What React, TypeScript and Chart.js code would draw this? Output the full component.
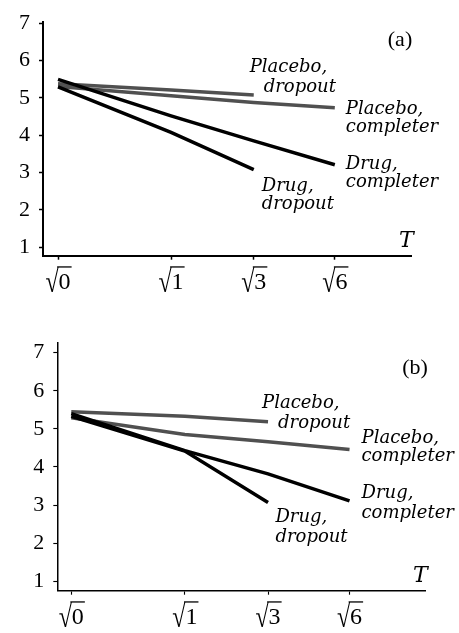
import React, { useEffect, useRef } from "react";
import { Chart, registerables } from "chart.js";

Chart.register(...registerables);

// ---- data ----
const T_COMPLETER = [0, 1, 3, 6];
const T_DROPOUT = [0, 1, 3];
const X_TICK_T = [0, 1, 3, 6];
const Y_TICKS = [1, 2, 3, 4, 5, 6, 7];

const A_DRUG_COMPLETER = [5.5, 4.52, 3.85, 3.21];
const A_DRUG_DROPOUT = [5.3, 4.08, 3.08];
const A_PLACEBO_COMPLETER = [5.31, 5.06, 4.88, 4.74];
const A_PLACEBO_DROPOUT = [5.38, 5.21, 5.08];

const B_DRUG_COMPLETER = [5.4, 4.43, 3.82, 3.11];
const B_DRUG_DROPOUT = [5.33, 4.42, 3.07];
const B_PLACEBO_COMPLETER = [5.29, 4.85, 4.66, 4.46];
const B_PLACEBO_DROPOUT = [5.45, 5.33, 5.19];

const LABEL_PLACEBO_DROPOUT = ["Placebo,", "dropout"];
const LABEL_PLACEBO_COMPLETER = ["Placebo,", "completer"];
const LABEL_DRUG_COMPLETER = ["Drug,", "completer"];
const LABEL_DRUG_DROPOUT = ["Drug,", "dropout"];

const BLACK = "#000000";
const GRAY = "#505050";
const SERIF = "'DejaVu Serif', 'Liberation Serif', serif";
const ROMAN = "'Liberation Serif', 'DejaVu Serif', serif";

type SeriesSpec = {
  t: number[];
  v: number[];
  color: string;
  lines: string[];
  dx: number[];
  dy: number[];
};

type PanelSpec = {
  tag: string;
  width: number;
  height: number;
  top: number;
  padTop: number;
  padRight: number;
  yWidth: number;
  xHeight: number;
  xMin: number;
  xMax: number;
  yMin: number;
  yMax: number;
  axisWidth: number;
  tagDx: number;
  tagDy: number;
  series: SeriesSpec[];
};

const PANEL_A: PanelSpec = {
  tag: "(a)",
  width: 459,
  height: 300,
  top: 0,
  padTop: 16,
  padRight: 47.3,
  yWidth: 43,
  xHeight: 44.3,
  xMin: -0.133,
  xMax: 3.13,
  yMin: 0.773,
  yMax: 7.03,
  axisWidth: 2,
  tagDx: -11.7,
  tagDy: 18,
  series: [
    { t: T_COMPLETER, v: A_DRUG_COMPLETER, color: BLACK, lines: LABEL_DRUG_COMPLETER, dx: [11, 11], dy: [4, 22.5] },
    { t: T_DROPOUT, v: A_DRUG_DROPOUT, color: BLACK, lines: LABEL_DRUG_DROPOUT, dx: [8, 8], dy: [21, 39] },
    { t: T_COMPLETER, v: A_PLACEBO_COMPLETER, color: GRAY, lines: LABEL_PLACEBO_COMPLETER, dx: [11, 11], dy: [6, 24] },
    { t: T_DROPOUT, v: A_PLACEBO_DROPOUT, color: GRAY, lines: LABEL_PLACEBO_DROPOUT, dx: [-4, 10], dy: [-22.6, -2.6] },
  ],
};

const PANEL_B: PanelSpec = {
  tag: "(b)",
  width: 459,
  height: 333,
  top: 300,
  padTop: 42.7,
  padRight: 33.3,
  yWidth: 57.3,
  xHeight: 42.3,
  xMin: -0.123,
  xMax: 3.12,
  yMin: 0.753,
  yMax: 7.262,
  axisWidth: 1.5,
  tagDx: -10.7,
  tagDy: 26,
  series: [
    { t: T_COMPLETER, v: B_DRUG_COMPLETER, color: BLACK, lines: LABEL_DRUG_COMPLETER, dx: [12, 12], dy: [-2.6, 17.4] },
    { t: T_DROPOUT, v: B_DRUG_DROPOUT, color: BLACK, lines: LABEL_DRUG_DROPOUT, dx: [7.4, 7.4], dy: [19.3, 39.3] },
    { t: T_COMPLETER, v: B_PLACEBO_COMPLETER, color: GRAY, lines: LABEL_PLACEBO_COMPLETER, dx: [12, 12], dy: [-6, 12] },
    { t: T_DROPOUT, v: B_PLACEBO_DROPOUT, color: GRAY, lines: LABEL_PLACEBO_DROPOUT, dx: [-6, 10], dy: [-13.4, 6.6] },
  ],
};

function makeChart(canvas: HTMLCanvasElement, spec: PanelSpec) {
  const overlay = {
    id: "overlay",
    afterDraw(chart: any) {
      const ctx = chart.ctx as CanvasRenderingContext2D;
      const xs = chart.scales.x;
      const ys = chart.scales.y;
      const area = chart.chartArea;
      ctx.save();
      ctx.fillStyle = "#000";
      ctx.strokeStyle = "#000";

      // x tick labels: sqrt(T)
      ctx.font = `24px ${ROMAN}`;
      ctx.textBaseline = "alphabetic";
      ctx.textAlign = "left";
      X_TICK_T.forEach((t) => {
        const px = xs.getPixelForValue(Math.sqrt(t));
        const rad = "\u221A";
        const dig = String(t);
        const wr = ctx.measureText(rad).width;
        const wd = ctx.measureText(dig).width;
        const left = px - (wr + wd) / 2;
        const base = area.bottom + 33.6;
        const m = ctx.measureText(rad);
        const stretch = 1.3;
        ctx.save();
        ctx.translate(left, base + 3);
        ctx.scale(1, stretch);
        ctx.fillText(rad, 0, 0);
        ctx.restore();
        ctx.fillText(dig, left + wr, base);
        const topY = base + 3 - m.actualBoundingBoxAscent * stretch;
        ctx.lineWidth = 1.3;
        ctx.beginPath();
        ctx.moveTo(left + wr - 1.5, topY + 0.65);
        ctx.lineTo(left + wr + wd + 1, topY + 0.65);
        ctx.stroke();
      });

      // series labels
      ctx.font = `italic 18px ${SERIF}`;
      ctx.textAlign = "left";
      spec.series.forEach((s) => {
        const lastT = s.t[s.t.length - 1];
        const lastV = s.v[s.v.length - 1];
        const px = xs.getPixelForValue(Math.sqrt(lastT));
        const py = ys.getPixelForValue(lastV);
        s.lines.forEach((line, i) => {
          ctx.fillText(line, px + s.dx[i], py + s.dy[i]);
        });
      });

      // axis title T
      ctx.font = `italic 22px ${SERIF}`;
      ctx.textAlign = "right";
      ctx.fillText("T", area.right + 2, area.bottom - 9);

      // panel tag
      ctx.font = `22px ${ROMAN}`;
      ctx.textAlign = "center";
      ctx.textBaseline = "middle";
      ctx.fillText(spec.tag, area.right + spec.tagDx, area.top + spec.tagDy);
      ctx.restore();
    },
  };

  return new Chart(canvas, {
    type: "line",
    data: {
      datasets: spec.series.map((s) => ({
        data: s.t.map((t, i) => ({ x: Math.sqrt(t), y: s.v[i] })),
        borderColor: s.color,
        backgroundColor: s.color,
        borderWidth: 3.5,
        pointRadius: 0,
        tension: 0,
        fill: false,
      })),
    },
    options: {
      responsive: false,
      maintainAspectRatio: false,
      animation: false,
      devicePixelRatio: 1,
      layout: { padding: { left: 0, top: spec.padTop, right: spec.padRight, bottom: 0 } },
      plugins: { legend: { display: false }, tooltip: { enabled: false } },
      scales: {
        x: {
          type: "linear",
          min: spec.xMin,
          max: spec.xMax,
          afterBuildTicks: (scale: any) => {
            scale.ticks = X_TICK_T.map((t) => ({ value: Math.sqrt(t) }));
          },
          afterFit: (scale: any) => {
            scale.height = spec.xHeight;
          },
          ticks: { display: false },
          grid: {
            drawOnChartArea: false,
            drawTicks: true,
            tickLength: 4,
            tickColor: "#000",
            tickWidth: spec.axisWidth * 0.75,
          },
          border: { display: true, color: "#000", width: spec.axisWidth },
        },
        y: {
          type: "linear",
          min: spec.yMin,
          max: spec.yMax,
          afterBuildTicks: (scale: any) => {
            scale.ticks = Y_TICKS.map((v) => ({ value: v }));
          },
          afterFit: (scale: any) => {
            scale.width = spec.yWidth;
          },
          ticks: {
            color: "#000",
            padding: 9,
            font: { family: ROMAN, size: 22 },
            callback: (v: any) => String(v),
          },
          grid: {
            drawOnChartArea: false,
            drawTicks: true,
            tickLength: 4,
            tickColor: "#000",
            tickWidth: spec.axisWidth * 0.75,
          },
          border: { display: true, color: "#000", width: spec.axisWidth },
        },
      },
    },
    plugins: [overlay],
  } as any);
}

function Panel({ spec }: { spec: PanelSpec }) {
  const ref = useRef<HTMLCanvasElement | null>(null);
  useEffect(() => {
    if (!ref.current) return;
    const chart = makeChart(ref.current, spec);
    return () => chart.destroy();
  }, [spec]);
  return (
    <canvas
      ref={ref}
      width={spec.width}
      height={spec.height}
      style={{ position: "absolute", left: 0, top: spec.top, width: spec.width, height: spec.height }}
    />
  );
}

export default function App() {
  return (
    <div style={{ position: "absolute", left: 0, top: 0, width: 459, height: 633, background: "#fff" }}>
      <Panel spec={PANEL_A} />
      <Panel spec={PANEL_B} />
    </div>
  );
}
